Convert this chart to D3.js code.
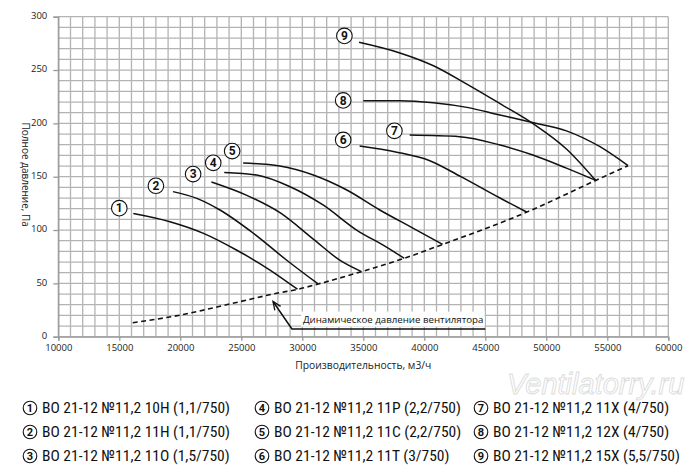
<!DOCTYPE html>
<html lang="ru">

<head>
  <meta charset="UTF-8">
  <title>ВО 21-12 №11,2</title>
  <style>
    body { margin: 0; background: #fff; }
  </style>
</head>

<body>
  <svg id="svg" width="700" height="476"></svg>

  <script src="https://d3js.org/d3.v7.min.js"></script>
  <script>
    // axis ticks
    const xTicks = [10000, 15000, 20000, 25000, 30000, 35000, 40000, 45000, 50000, 55000, 60000]
    const yTicks = [0, 50, 100, 150, 200, 250, 300]

    // fan curves (flow m3/h, total pressure Pa)
    const curveFlows = [
      [16150, 19150, 21900, 24600, 27350, 29600],
      [19400, 21350, 23250, 26000, 28700, 31300],
      [22550, 25450, 28200, 30900, 33100, 34850],
      [23600, 26250, 29000, 31700, 34450, 36900, 38350],
      [25150, 28150, 30900, 33650, 36350, 39100, 41500],
      [34700, 37750, 40450, 43000, 46200, 48400],
      [38800, 42900, 46200, 48900, 51650, 54050],
      [35000, 38000, 40750, 43500, 46200, 48950, 51650, 54400, 56700],
      [34650, 38000, 40750, 43450, 46200, 48950, 51650, 54050]
    ]
    const curvePressures = [
      [115.5, 107.8, 96.9, 81.3, 62.5, 44.5],
      [136, 129.7, 118.8, 96.9, 71.9, 49.4],
      [145, 132.5, 116, 91.5, 71.5, 61],
      [154, 151.6, 140.6, 123.5, 100, 84, 73.5],
      [162.8, 160, 151.6, 137.5, 118.8, 101.6, 86.5],
      [178.8, 173, 165, 150, 130, 116.8],
      [189, 187.5, 179.7, 170.3, 158, 146.5],
      [221.3, 221.3, 219.4, 215, 207.8, 200.6, 193, 178.1, 160.3],
      [276, 266, 254, 237, 218.5, 199.5, 176, 146.5]
    ]

    // dynamic pressure of the fan (dashed)
    const dynFlows = [16100, 20000, 24300, 27900, 29600, 31300, 34850, 38350, 41500, 48400, 54050, 56700]
    const dynPressures = [13.1, 20.3, 31.3, 40.7, 44.4, 49.4, 61, 73.5, 86.5, 116.8, 146.5, 160.3]

    // numbered badges on the chart
    const badgeNumbers = [1, 2, 3, 4, 5, 6, 7, 8, 9]
    const badgeFlows = [15000, 18000, 21050, 22700, 24250, 33350, 37550, 33350, 33450]
    const badgePressures = [120.5, 141.5, 152.5, 163, 174, 184.5, 193, 221.5, 282]

    const legendLabels = [
      "ВО 21-12 №11,2 10Н (1,1/750)",
      "ВО 21-12 №11,2 11Н (1,1/750)",
      "ВО 21-12 №11,2 11О (1,5/750)",
      "ВО 21-12 №11,2 11Р (2,2/750)",
      "ВО 21-12 №11,2 11С (2,2/750)",
      "ВО 21-12 №11,2 11Т (3/750)",
      "ВО 21-12 №11,2 11Х (4/750)",
      "ВО 21-12 №11,2 12Х (4/750)",
      "ВО 21-12 №11,2 15Х (5,5/750)"
    ]

    const plotLeft = 58.3, plotRight = 668.3, plotTop = 16.7, plotBottom = 336.7
    const gridColor = "#b3b3b3"
    const tickFont = "'Open Sans', sans-serif"

    const xScale = d3.scaleLinear().domain([10000, 60000]).range([plotLeft, plotRight])
    const yScale = d3.scaleLinear().domain([0, 300]).range([plotBottom, plotTop])

    const svg = d3.select("#svg")

    // grid
    const grid = svg.append("g")
    grid.selectAll(".vx")
      .data(d3.range(10000, 60001, 1000))
      .enter()
      .append("line")
      .attr("x1", d => xScale(d)).attr("x2", d => xScale(d))
      .attr("y1", plotTop).attr("y2", plotBottom)
      .attr("stroke", gridColor).attr("stroke-width", 1.3)
    grid.selectAll(".hy")
      .data(d3.range(0, 301, 10))
      .enter()
      .append("line")
      .attr("x1", plotLeft).attr("x2", plotRight)
      .attr("y1", d => yScale(d)).attr("y2", d => yScale(d))
      .attr("stroke", gridColor).attr("stroke-width", 1.3)

    // axes
    const xAxis = svg.append("g")
      .attr("transform", `translate(0,${plotBottom})`)
      .call(d3.axisBottom(xScale).tickValues(xTicks).tickSize(4).tickPadding(4).tickFormat(d3.format("d")))
    const yAxis = svg.append("g")
      .attr("transform", `translate(${plotLeft},0)`)
      .call(d3.axisLeft(yScale).tickValues(yTicks).tickSize(5).tickPadding(6))
    for (const ax of [xAxis, yAxis]) {
      ax.select(".domain").attr("stroke", "#999").attr("stroke-width", 1.3)
      ax.selectAll(".tick line").attr("stroke", "#999").attr("stroke-width", 1.3)
      ax.selectAll(".tick text")
        .style("font-family", tickFont)
        .style("font-size", "9.5px")
        .attr("fill", "#222")
    }
    yAxis.selectAll(".tick text").attr("dy", "0.2em")

    svg.append("text")
      .text("Производительность, м3/ч")
      .attr("x", (plotLeft + plotRight) / 2)
      .attr("y", 369)
      .attr("text-anchor", "middle")
      .style("font-family", tickFont)
      .style("font-size", "10.3px")
      .attr("fill", "#222")

    svg.append("text")
      .text("Полное давление, Па")
      .attr("transform", `translate(22,${(plotTop + plotBottom) / 2 - 2}) rotate(90)`)
      .attr("text-anchor", "middle")
      .style("font-family", tickFont)
      .style("font-size", "10px")
      .attr("fill", "#222")

    // curves
    const line = d3.line()
      .x(d => xScale(d[0]))
      .y(d => yScale(d[1]))
      .curve(d3.curveMonotoneX)

    svg.append("g")
      .selectAll("path")
      .data(curveFlows.map((fl, i) => fl.map((f, j) => [f, curvePressures[i][j]])))
      .enter()
      .append("path")
      .attr("d", line)
      .attr("fill", "none")
      .attr("stroke", "#111")
      .attr("stroke-width", 1.5)

    svg.append("path")
      .attr("d", line(dynFlows.map((f, j) => [f, dynPressures[j]])))
      .attr("fill", "none")
      .attr("stroke", "#111")
      .attr("stroke-width", 1.6)
      .attr("stroke-dasharray", "5,3.5")

    // annotation for dynamic pressure
    const tip = [xScale(27600), yScale(33)]
    const corner = [xScale(29150), yScale(7.2)]
    svg.append("rect")
      .attr("x", xScale(29900)).attr("y", yScale(23.5))
      .attr("width", xScale(44950) - xScale(29900)).attr("height", 15)
      .attr("fill", "#fff")
    svg.append("text")
      .text("Динамическое давление вентилятора")
      .attr("x", xScale(30050))
      .attr("y", yScale(12.8))
      .style("font-family", tickFont)
      .style("font-size", "9.7px")
      .attr("fill", "#111")
    svg.append("path")
      .attr("d", d3.line()([tip, corner, [xScale(45000), corner[1]]]))
      .attr("fill", "none")
      .attr("stroke", "#111")
      .attr("stroke-width", 1.5)
    const ang = Math.atan2(corner[1] - tip[1], corner[0] - tip[0])
    const arm = 9
    svg.append("path")
      .attr("d", d3.line()([
        [tip[0] + arm * Math.cos(ang - 0.4), tip[1] + arm * Math.sin(ang - 0.4)],
        tip,
        [tip[0] + arm * Math.cos(ang + 0.4), tip[1] + arm * Math.sin(ang + 0.4)]
      ]))
      .attr("fill", "none")
      .attr("stroke", "#111")
      .attr("stroke-width", 1.3)

    // badges
    const badges = svg.append("g")
      .selectAll("g")
      .data(badgeNumbers)
      .enter()
      .append("g")
      .attr("transform", (d, i) => `translate(${xScale(badgeFlows[i])},${yScale(badgePressures[i])})`)
    badges.append("circle")
      .attr("r", 7.8)
      .attr("fill", "#fff")
      .attr("stroke", "#111")
      .attr("stroke-width", 1.1)
    badges.append("text")
      .text(d => d)
      .attr("text-anchor", "middle")
      .attr("y", 4.2)
      .style("font-family", "'Roboto', sans-serif")
      .style("font-weight", "bold")
      .style("font-size", "12px")
      .attr("fill", "#111")

    // watermark
    svg.append("text")
      .text("Ventilatorry.ru")
      .attr("x", 507)
      .attr("y", 394)
      .style("font-family", "'Liberation Sans', sans-serif")
      .style("font-style", "italic")
      .style("font-size", "29px")
      .attr("fill", "#fff")
      .attr("stroke", "#dcdcdc")
      .attr("stroke-width", 0.9)

    // legend
    const colX = [30, 262, 481]
    const rowY = [408, 432, 456]
    const legend = svg.append("g")
      .selectAll("g")
      .data(legendLabels)
      .enter()
      .append("g")
      .attr("transform", (d, i) => `translate(${colX[Math.floor(i / 3)]},${rowY[i % 3]})`)
    legend.append("circle")
      .attr("r", 6.8)
      .attr("fill", "#fff")
      .attr("stroke", "#111")
      .attr("stroke-width", 1.1)
    legend.append("text")
      .text((d, i) => badgeNumbers[i])
      .attr("text-anchor", "middle")
      .attr("y", 4)
      .style("font-family", "'Roboto', sans-serif")
      .style("font-weight", "bold")
      .style("font-size", "11px")
      .attr("fill", "#111")
    legend.append("text")
      .text(d => d)
      .attr("x", 12)
      .attr("y", 5.3)
      .style("font-family", "'Liberation Sans Narrow', 'Roboto Condensed', 'Roboto', sans-serif")
      .style("font-size", "15.5px")
      .attr("fill", "#111")
  </script>
</body>

</html>
